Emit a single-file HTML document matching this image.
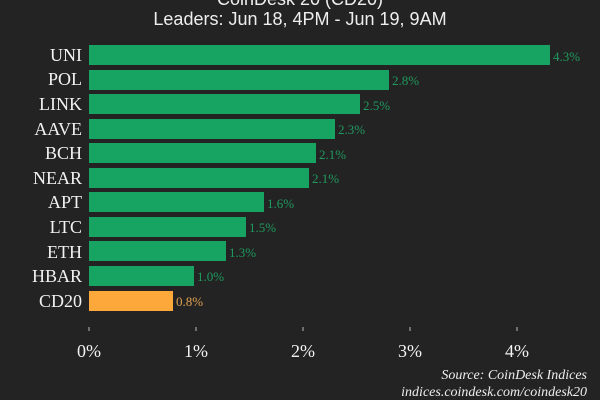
<!DOCTYPE html>
<html><head><style>
body{margin:0;background:#232323;}
svg{display:block}
</style></head><body>
<svg width="600" height="400" xmlns="http://www.w3.org/2000/svg">
<rect width="600" height="400" fill="#232323"/>
<g font-family="Liberation Sans, sans-serif" font-size="18" fill="#eee" text-anchor="middle">
<text x="300" y="5">CoinDesk 20 (CD20)</text>
<text x="300" y="25">Leaders: Jun 18, 4PM - Jun 19, 9AM</text>
</g>
<g font-family="Liberation Serif, serif" font-size="18" fill="#f2f2f2" text-anchor="end">
<text x="82" y="61">UNI</text>
<text x="82" y="85">POL</text>
<text x="82" y="110">LINK</text>
<text x="82" y="135">AAVE</text>
<text x="82" y="159">BCH</text>
<text x="82" y="184">NEAR</text>
<text x="82" y="208">APT</text>
<text x="82" y="233">LTC</text>
<text x="82" y="258">ETH</text>
<text x="82" y="282">HBAR</text>
<text x="82" y="307">CD20</text>
</g>
<g fill="#17a463">
<rect x="89" y="45" width="461" height="20"/>
<rect x="89" y="70" width="300" height="20"/>
<rect x="89" y="94" width="271" height="20"/>
<rect x="89" y="119" width="246" height="20"/>
<rect x="89" y="143" width="227" height="20"/>
<rect x="89" y="168" width="220" height="20"/>
<rect x="89" y="192" width="175" height="20"/>
<rect x="89" y="217" width="157" height="20"/>
<rect x="89" y="241" width="137" height="20"/>
<rect x="89" y="266" width="105" height="20"/>
</g>
<rect x="89" y="291" width="84" height="20" fill="#fca83a"/>
<g font-family="Liberation Serif, serif" font-size="13" fill="#1f9a5e">
<text x="553" y="61">4.3%</text>
<text x="392" y="85">2.8%</text>
<text x="363" y="110">2.5%</text>
<text x="338" y="134">2.3%</text>
<text x="319" y="159">2.1%</text>
<text x="312" y="183">2.1%</text>
<text x="267" y="208">1.6%</text>
<text x="249" y="232">1.5%</text>
<text x="229" y="257">1.3%</text>
<text x="197" y="281">1.0%</text>
<text x="176" y="306" fill="#e0a050">0.8%</text>
</g>
<g stroke="#bbb" stroke-width="1">
<line x1="89" y1="327" x2="89" y2="331"/>
<line x1="196" y1="327" x2="196" y2="331"/>
<line x1="303" y1="327" x2="303" y2="331"/>
<line x1="410" y1="327" x2="410" y2="331"/>
<line x1="517" y1="327" x2="517" y2="331"/>
</g>
<g font-family="Liberation Serif, serif" font-size="18" fill="#f2f2f2" text-anchor="middle">
<text x="89" y="357">0%</text>
<text x="196" y="357">1%</text>
<text x="303" y="357">2%</text>
<text x="410" y="357">3%</text>
<text x="517" y="357">4%</text>
</g>
<g font-family="Liberation Serif, serif" font-size="14" font-style="italic" fill="#eee" text-anchor="end">
<text x="587" y="379">Source: CoinDesk Indices</text>
<text x="587" y="396">indices.coindesk.com/coindesk20</text>
</g>
</svg>
</body></html>
